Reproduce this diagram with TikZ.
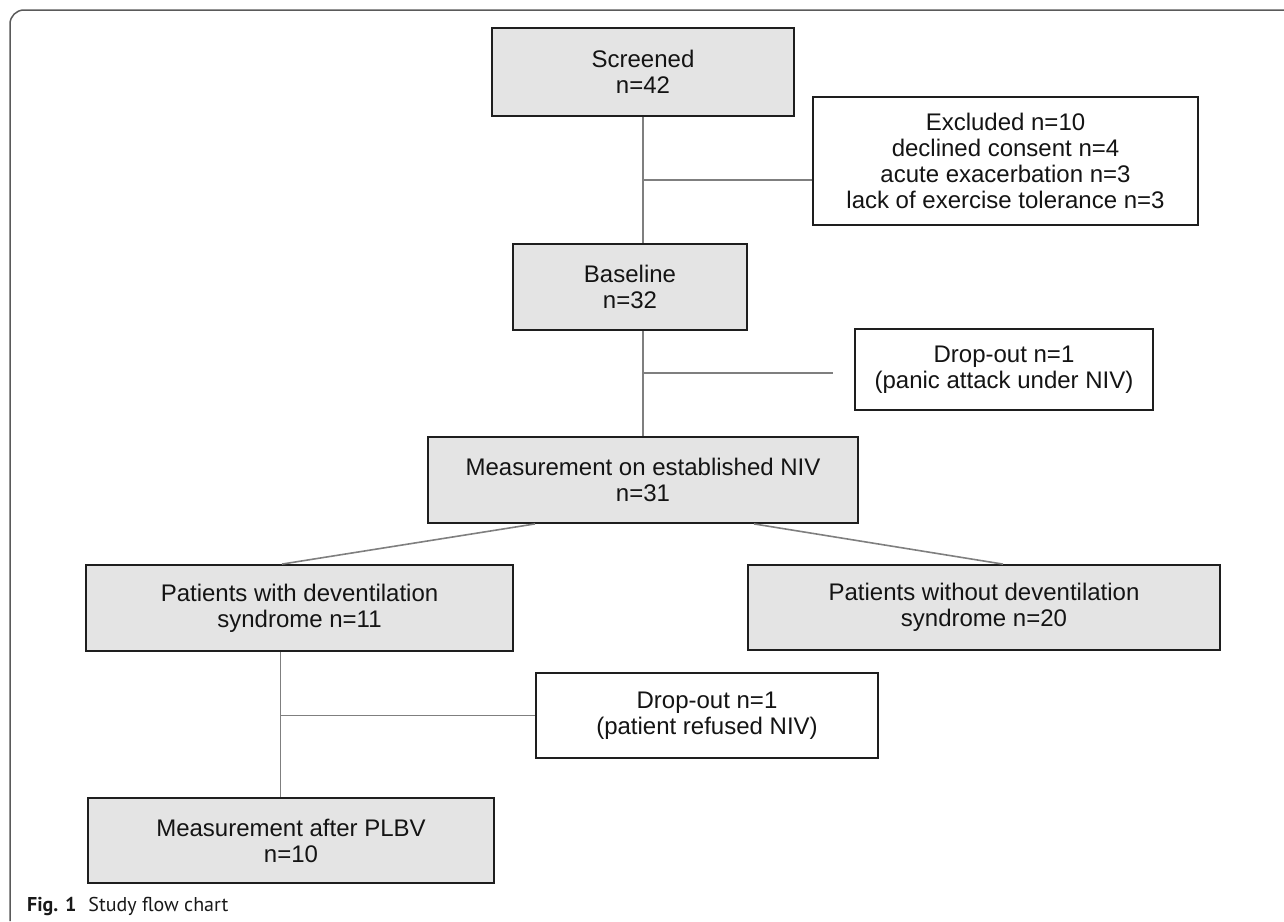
\documentclass[tikz,border=0pt]{standalone}
\usepackage{fontspec}
\setmainfont{Liberation Sans}
\newfontfamily\capfont{PT Sans}
\usetikzlibrary{calc}
\definecolor{boxfill}{HTML}{E4E4E4}
\definecolor{boxline}{HTML}{1E1E1E}
\definecolor{conncol}{HTML}{7F7F7F}
\definecolor{framecol}{HTML}{5A5A5A}
\begin{document}
\begin{tikzpicture}[x=1pt,y=-1pt,
  gbox/.style={draw=boxline, line width=1.8pt, fill=boxfill, inner sep=0pt, align=center,
    font=\fontsize{24}{26}\selectfont, text=black!92},
  wbox/.style={gbox, fill=white},
  conn/.style={draw=conncol, line width=1.6pt}]
\useasboundingbox (0,0) rectangle (1284,921);
% frame
\draw[framecol, line width=1.5pt, rounded corners=14pt] (10,921) -- (10,10) -- (1284,10);
% boxes
\node[gbox, minimum width=302, minimum height=88] (screened) at (643,72) {Screened\\n=42};
\node[wbox, minimum width=385, minimum height=128] (excluded) at (1005.5,161)
  {Excluded n=10\\declined consent n=4\\acute exacerbation n=3\\lack of exercise tolerance n=3};
\node[gbox, minimum width=234, minimum height=86] (baseline) at (630,287) {Baseline\\n=32};
\node[wbox, minimum width=298, minimum height=81] (dropa) at (1004,369.5) {Drop-out n=1\\(panic attack under NIV)};
\node[gbox, minimum width=430, minimum height=86] (meas) at (643,480) {Measurement on established NIV\\n=31};
\node[gbox, minimum width=427, minimum height=86] (pw) at (299.5,608) {Patients with deventilation\\syndrome n=11};
\node[gbox, minimum width=472, minimum height=85] (pwo) at (984,607.5) {Patients without deventilation\\syndrome n=20};
\node[wbox, minimum width=342, minimum height=85] (dropb) at (707,715.5) {Drop-out n=1\\(patient refused NIV)};
\node[gbox, minimum width=406, minimum height=85] (mafter) at (291,840.5) {\raisebox{-5pt}{\parbox{400pt}{\centering Measurement after PLBV\\n=10}}};
% connectors
\draw[conn] (screened.south) -- (screened.south |- baseline.north);
\coordinate (ja) at ($(screened.south)!0.5!(screened.south |- baseline.north)$);
\draw[conn] (ja) -- (ja -| excluded.west);
\draw[conn] (screened.south |- baseline.south) -- (screened.south |- meas.north);
\coordinate (jb) at ($(screened.south |- baseline.south)!0.4!(screened.south |- meas.north)$);
\coordinate (jbend) at ($(jb -| dropa.west)+(-21,0)$);
\draw[conn] (jb) -- (jbend);
\draw[conn] ($(meas.south west)!0.25!(meas.south east)$) -- ($(pw.north west)!0.459!(pw.north east)$);
\draw[conn] ($(meas.south west)!0.757!(meas.south east)$) -- ($(pwo.north west)!0.54!(pwo.north east)$);
\coordinate (v) at ($(pw.south west)!0.456!(pw.south east)$);
\draw[conn] (v) -- (v |- mafter.north);
\draw[conn] (v |- dropb.west) -- (dropb.west);
% caption
\node[anchor=base west, inner sep=0pt, font=\capfont\fontsize{20}{24}\selectfont, text=black!90] (cap) at (27,911)
  {\textbf{Fig. 1}\hspace{0.6em}Study flow chart};
\end{tikzpicture}
\end{document}
